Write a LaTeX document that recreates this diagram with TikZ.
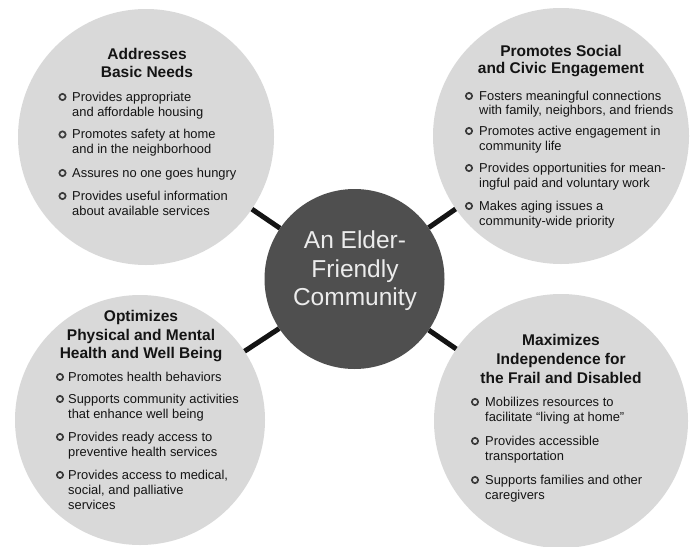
\documentclass[tikz,border=0pt]{standalone}
\usepackage{fontspec}
\setmainfont{Liberation Sans}
\definecolor{circfill}{RGB}{217,217,217}
\definecolor{hubfill}{RGB}{79,79,79}
\definecolor{ink}{RGB}{20,20,20}
\definecolor{bulink}{RGB}{60,60,60}
\definecolor{hubtext}{RGB}{236,236,236}
\begin{document}
\begin{tikzpicture}[x=1pt,y=-1pt,
  petal/.style={circle, fill=circfill, draw=none, inner sep=0pt, minimum size=#1},
  hub/.style={circle, fill=hubfill, draw=none, inner sep=0pt, minimum size=180pt},
  link/.style={line width=5pt, draw=black!92},
  ttl/.style={font=\bfseries\fontsize{15.5}{18}\selectfont, text=ink, inner sep=0pt, anchor=base},
  body/.style={font=\fontsize{12.9}{15}\selectfont, text=ink, inner sep=0pt, anchor=base west},
  bul/.style={circle, draw=bulink, line width=1.7pt, inner sep=0pt, minimum size=6.3pt},
  hubtxt/.style={font=\fontsize{24.5}{28}\selectfont, text=hubtext, inner sep=0pt, anchor=base}]
\useasboundingbox (0,0) rectangle (693,546);

% circles
\node[petal=256pt] (tl) at (146,137) {};
\node[petal=256pt] (tr) at (561,136) {};
\node[petal=250pt] (bl) at (140,420) {};
\node[petal=254pt] (br) at (561,421) {};
\node[hub] (hub) at (354.5,279) {};

% connectors
\draw[link] (hub) -- (tl);
\draw[link] (hub) -- (tr);
\draw[link] (hub) -- (bl);
\draw[link] (hub) -- (br);

% hub text
\node[hubtxt] (h1) at (355,248) {An Elder-};
\node[hubtxt] (h2) at (355,277) {Friendly};
\node[hubtxt] (h3) at (355,305) {Community};

% top-left
\node[ttl] (tlt1) at (147,59) {Addresses};
\node[ttl] (tlt2) at (147,77) {Basic Needs};
\node[bul] (tlb1) at (62.5,97) {};
\node[body] (tl1a) at (72,101) {Provides appropriate};
\node[body] (tl1b) at (72,116) {and affordable housing};
\node[bul] (tlb2) at (62.5,134.5) {};
\node[body] (tl2a) at (72,138.5) {Promotes safety at home};
\node[body] (tl2b) at (72,153.5) {and in the neighborhood};
\node[bul] (tlb3) at (62.5,173) {};
\node[body] (tl3a) at (72,177) {Assures no one goes hungry};
\node[bul] (tlb4) at (62.5,196) {};
\node[body] (tl4a) at (72,200) {Provides useful information};
\node[body] (tl4b) at (72,215) {about available services};

% top-right
\node[ttl] (trt1) at (561,56) {Promotes Social};
\node[ttl] (trt2) at (561,73) {and Civic Engagement};
\node[bul] (trb1) at (469,96) {};
\node[body] (tr1a) at (479,100) {Fosters meaningful connections};
\node[body] (tr1b) at (479,114) {with family, neighbors, and friends};
\node[bul] (trb2) at (469,131) {};
\node[body] (tr2a) at (479,135) {Promotes active engagement in};
\node[body] (tr2b) at (479,150) {community life};
\node[bul] (trb3) at (469,168) {};
\node[body] (tr3a) at (479,172) {Provides opportunities for mean-};
\node[body] (tr3b) at (479,187) {ingful paid and voluntary work};
\node[bul] (trb4) at (469,206) {};
\node[body] (tr4a) at (479,210) {Makes aging issues a};
\node[body] (tr4b) at (479,225) {community-wide priority};

% bottom-left
\node[ttl] (blt1) at (141,321) {Optimizes};
\node[ttl] (blt2) at (141,340) {Physical and Mental};
\node[ttl] (blt3) at (141,358) {Health and Well Being};
\node[bul] (blb1) at (60,377) {};
\node[body] (bl1a) at (68,381) {Promotes health behaviors};
\node[bul] (blb2) at (60,399) {};
\node[body] (bl2a) at (68,403) {Supports community activities};
\node[body] (bl2b) at (68,418) {that enhance well being};
\node[bul] (blb3) at (60,437) {};
\node[body] (bl3a) at (68,441) {Provides ready access to};
\node[body] (bl3b) at (68,456) {preventive health services};
\node[bul] (blb4) at (60,475) {};
\node[body] (bl4a) at (68,479) {Provides access to medical,};
\node[body] (bl4b) at (68,494) {social, and palliative};
\node[body] (bl4c) at (68,509.5) {services};

% bottom-right
\node[ttl] (brt1) at (561,345) {Maximizes};
\node[ttl] (brt2) at (561,364) {Independence for};
\node[ttl] (brt3) at (561,383) {the Frail and Disabled};
\node[bul] (brb1) at (475,402) {};
\node[body] (br1a) at (485,406) {Mobilizes resources to};
\node[body] (br1b) at (485,421) {facilitate “living at home”};
\node[bul] (brb2) at (475,441) {};
\node[body] (br2a) at (485,445) {Provides accessible};
\node[body] (br2b) at (485,460) {transportation};
\node[bul] (brb3) at (475,480) {};
\node[body] (br3a) at (485,484) {Supports families and other};
\node[body] (br3b) at (485,499) {caregivers};
\end{tikzpicture}
\end{document}
